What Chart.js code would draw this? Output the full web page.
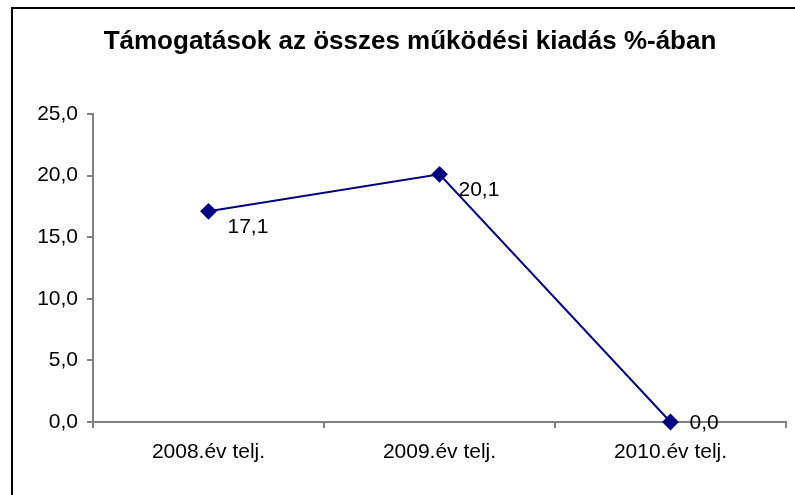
<!DOCTYPE html>
<html>
<head>
<meta charset="utf-8">
<script src="https://cdn.jsdelivr.net/npm/chart.js@4/dist/chart.umd.min.js"></script>
<style>
  html,body{margin:0;padding:0;background:#fff;overflow:hidden}
  #keret{position:absolute;left:11px;top:7px;width:900px;height:600px;border-left:2px solid #000;border-top:2px solid #000}
  #wrap{position:absolute;left:0;top:0;width:795px;height:495px}
</style>
</head>
<body>
<div id="keret"></div>
<div id="wrap"><canvas id="grafikon" width="795" height="495"></canvas></div>
<script>
// adatok
var cimkek = ['2008.év telj.', '2009.év telj.', '2010.év telj.']
var ertekek = [17.1, 20.1, 0.0]
var cim = 'Támogatások az összes működési kiadás %-ában'

var betu = '"Liberation Sans", Arial, sans-serif'

function szam(v){
    return v.toFixed(1).replace('.', ',')
}

/* CIM ES ADATCIMKEK */
var feliratok = {
    id: 'feliratok',
    afterDatasetsDraw: function(chart){
        var ctx = chart.ctx
        var area = chart.chartArea
        var meta = chart.getDatasetMeta(0)
        ctx.save()
        ctx.fillStyle = '#000'
        ctx.textBaseline = 'middle'

        // cim
        ctx.font = 'bold 26px ' + betu
        ctx.textAlign = 'center'
        ctx.fillText(cim, 410, 42)

        // ertekek a pontok mellett
        ctx.font = '21px ' + betu
        ctx.textAlign = 'left'
        for(var i = 0; i < meta.data.length; ++i){
            var p = meta.data[i]
            ctx.fillText(szam(ertekek[i]), p.x + 19, Math.min(p.y + 16, area.bottom + 1))
        }
        ctx.restore()
    }
}

var tengely = '#808080'

var chart = new Chart(document.getElementById('grafikon').getContext('2d'), {
    type: 'line',
    data: {
        labels: cimkek,
        datasets: [{
            data: ertekek,
            borderColor: '#000080',
            backgroundColor: '#000080',
            borderWidth: 2,
            pointStyle: 'rectRot',
            pointRadius: 7,
            pointHoverRadius: 7,
            tension: 0,
            clip: false
        }]
    },
    options: {
        responsive: false,
        animation: false,
        layout: { padding: { left: 0, right: 7, top: 114, bottom: 0 } },
        plugins: {
            legend: { display: false },
            tooltip: { enabled: false },
            title: { display: false }
        },
        scales: {
            x: {
                offset: true,
                grid: { offset: true, drawOnChartArea: false, drawTicks: true, tickLength: 6, color: tengely, lineWidth: 2 },
                border: { color: tengely, width: 2 },
                ticks: { color: '#000', padding: 12, maxRotation: 0, font: { family: betu, size: 21 } },
                afterFit: function(s){ s.height = 73 }
            },
            y: {
                min: 0,
                max: 25,
                grid: { drawOnChartArea: false, drawTicks: true, tickLength: 6, color: tengely, lineWidth: 2 },
                border: { color: tengely, width: 2 },
                ticks: {
                    stepSize: 5,
                    color: '#000',
                    padding: 9,
                    font: { family: betu, size: 21 },
                    callback: function(v){ return szam(v) }
                },
                afterFit: function(s){ s.width = 93 }
            }
        }
    },
    plugins: [feliratok]
})
</script>
</body>
</html>
